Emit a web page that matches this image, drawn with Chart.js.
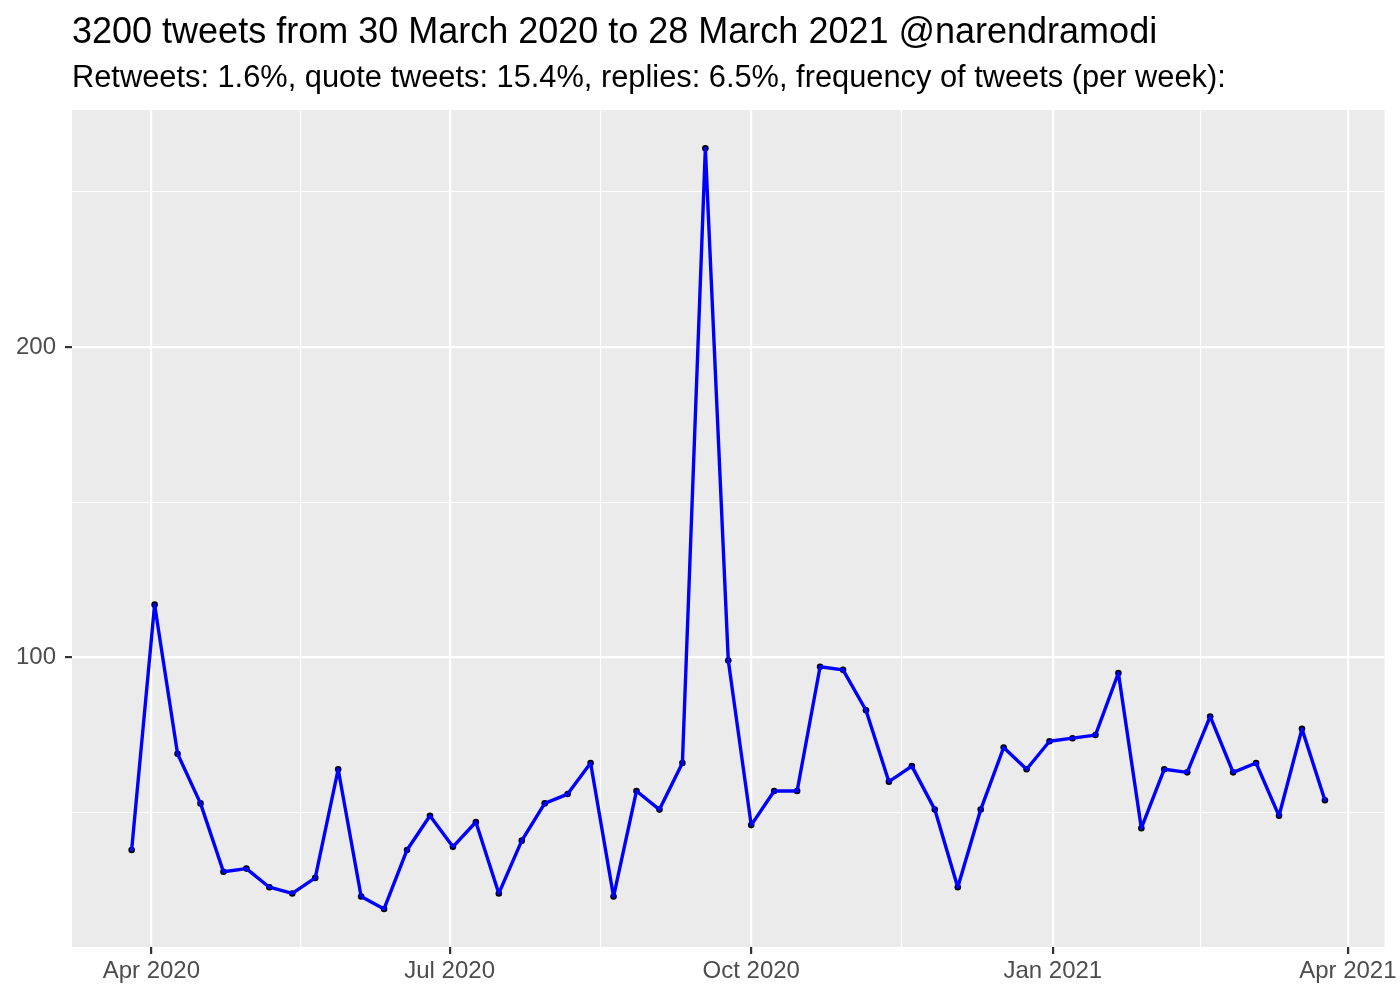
<!DOCTYPE html>
<html>
<head>
<meta charset="utf-8">
<title>Tweets per week @narendramodi</title>
<script src="https://cdn.jsdelivr.net/npm/chart.js@4.4.1/dist/chart.umd.min.js"></script>
<style>
  body { margin: 0; background: #ffffff; }
  #wrap { width: 1400px; height: 1000px; }
</style>
</head>
<body>
<div id="wrap"><canvas id="tweetChart" width="1400" height="1000"></canvas></div>
<script>
// weekly buckets (start date of each week)
const weekDates = [
    "2020-03-26", "2020-04-02", "2020-04-09", "2020-04-16", "2020-04-23", "2020-04-30",
    "2020-05-07", "2020-05-14", "2020-05-21", "2020-05-28", "2020-06-04", "2020-06-11",
    "2020-06-18", "2020-06-25", "2020-07-02", "2020-07-09", "2020-07-16", "2020-07-23",
    "2020-07-30", "2020-08-06", "2020-08-13", "2020-08-20", "2020-08-27", "2020-09-03",
    "2020-09-10", "2020-09-17", "2020-09-24", "2020-10-01", "2020-10-08", "2020-10-15",
    "2020-10-22", "2020-10-29", "2020-11-05", "2020-11-12", "2020-11-19", "2020-11-26",
    "2020-12-03", "2020-12-10", "2020-12-17", "2020-12-24", "2020-12-31", "2021-01-07",
    "2021-01-14", "2021-01-21", "2021-01-28", "2021-02-04", "2021-02-11", "2021-02-18",
    "2021-02-25", "2021-03-04", "2021-03-11", "2021-03-18", "2021-03-25"
];
const tweetsPerWeek = [
    38, 117, 69, 53, 31, 32, 26, 24, 29, 64,
    23, 19, 38, 49, 39, 47, 24, 41, 53, 56,
    66, 23, 57, 51, 66, 264, 99, 46, 57, 57,
    97, 96, 83, 60, 65, 51, 26, 51, 71, 64,
    73, 74, 75, 95, 45, 64, 63, 81, 63, 66,
    49, 77, 54
];

// axis breaks
const xTickDates = ["2020-04-01", "2020-07-01", "2020-10-01", "2021-01-01", "2021-04-01"];
const xTickLabels = ["Apr 2020", "Jul 2020", "Oct 2020", "Jan 2021", "Apr 2021"];
const yMajorTicks = [100, 200];
const yMinorTicks = [50, 150, 250];

const titleText = "3200 tweets from 30 March 2020 to 28 March 2021 @narendramodi";
const subtitleText = "Retweets: 1.6%, quote tweets: 15.4%, replies: 6.5%, frequency of tweets (per week):";

const FONT = "'Liberation Sans', Arial, Helvetica, sans-serif";
const toDay = (s) => Date.parse(s) / 86400000;

const points = weekDates.map((d, i) => ({ x: toDay(d), y: tweetsPerWeek[i] }));

// ggplot-like 5% expansion
const xs = points.map(p => p.x);
const xSpan = Math.max(...xs) - Math.min(...xs);
const ySpan = Math.max(...tweetsPerWeek) - Math.min(...tweetsPerWeek);

const xMajor = xTickDates.map(toDay);
const xMinor = [];
for (let i = 0; i < xMajor.length - 1; i++) {
    xMinor.push((xMajor[i] + xMajor[i + 1]) / 2);
}

const panelBackground = {
    id: "panelBackground",
    beforeDraw(chart) {
        const { ctx, chartArea } = chart;
        ctx.save();
        ctx.fillStyle = "#EBEBEB";
        ctx.fillRect(chartArea.left, chartArea.top, chartArea.right - chartArea.left, chartArea.bottom - chartArea.top);
        ctx.restore();
    }
};

const isMajorX = (v) => xMajor.some(m => Math.abs(m - v) < 1e-6);
const isMajorY = (v) => yMajorTicks.includes(v);

const ctx = document.getElementById("tweetChart").getContext("2d");
const tweetChart = new Chart(ctx, {
    type: "line",
    data: {
        datasets: [
            {
                label: "line",
                data: points,
                borderColor: "#0000FF",
                borderWidth: 3.4,
                borderJoinStyle: "round",
                borderCapStyle: "round",
                pointRadius: 0,
                fill: false,
                tension: 0,
                order: 0,
            },
            {
                label: "points",
                data: points,
                showLine: false,
                pointRadius: 3.3,
                pointBackgroundColor: "#000000",
                pointBorderWidth: 0,
                order: 1,
            },
        ],
    },
    options: {
        responsive: false,
        animation: false,
        devicePixelRatio: 1,
        layout: { padding: { top: 11, right: 15, bottom: 0, left: 0 } },
        plugins: {
            legend: { display: false },
            tooltip: { enabled: false },
            title: {
                display: true,
                text: titleText,
                align: "start",
                fullSize: false,
                color: "#000000",
                font: { family: FONT, size: 36, weight: "normal", lineHeight: 1.2 },
                padding: { top: 0, bottom: 6 },
            },
            subtitle: {
                display: true,
                text: subtitleText,
                align: "start",
                fullSize: false,
                color: "#000000",
                font: { family: FONT, size: 30.8, weight: "normal", lineHeight: 1.2 },
                padding: { top: 0, bottom: 13 },
            },
        },
        scales: {
            x: {
                type: "linear",
                min: Math.min(...xs) - 0.05 * xSpan,
                max: Math.max(...xs) + 0.05 * xSpan,
                afterBuildTicks: (scale) => {
                    scale.ticks = xMajor.concat(xMinor).sort((a, b) => a - b).map(v => ({ value: v }));
                },
                afterFit: (scale) => { scale.height = 53; },
                border: { display: false },
                grid: {
                    color: "#FFFFFF",
                    lineWidth: (c) => (c.tick && isMajorX(c.tick.value) ? 2.2 : 1.1),
                    tickColor: (c) => (c.tick && isMajorX(c.tick.value) ? "#333333" : "rgba(0,0,0,0)"),
                    tickLength: 7,
                    tickWidth: 2.2,
                },
                ticks: {
                    autoSkip: false,
                    maxRotation: 0,
                    padding: 3,
                    color: "#4D4D4D",
                    font: { family: FONT, size: 24 },
                    callback: (v) => {
                        const i = xMajor.findIndex(m => Math.abs(m - v) < 1e-6);
                        return i >= 0 ? xTickLabels[i] : "";
                    },
                },
            },
            y: {
                type: "linear",
                min: Math.min(...tweetsPerWeek) - 0.05 * ySpan,
                max: Math.max(...tweetsPerWeek) + 0.05 * ySpan,
                afterBuildTicks: (scale) => {
                    scale.ticks = yMajorTicks.concat(yMinorTicks).sort((a, b) => a - b).map(v => ({ value: v }));
                },
                afterFit: (scale) => { scale.width = 72; },
                border: { display: false },
                grid: {
                    color: "#FFFFFF",
                    lineWidth: (c) => (c.tick && isMajorY(c.tick.value) ? 2.2 : 1.1),
                    tickColor: (c) => (c.tick && isMajorY(c.tick.value) ? "#333333" : "rgba(0,0,0,0)"),
                    tickLength: 7,
                    tickWidth: 2.2,
                },
                ticks: {
                    autoSkip: false,
                    padding: 9,
                    color: "#4D4D4D",
                    font: { family: FONT, size: 24 },
                    callback: (v) => (isMajorY(v) ? String(v) : ""),
                },
            },
        },
    },
    plugins: [panelBackground],
});
</script>
</body>
</html>
